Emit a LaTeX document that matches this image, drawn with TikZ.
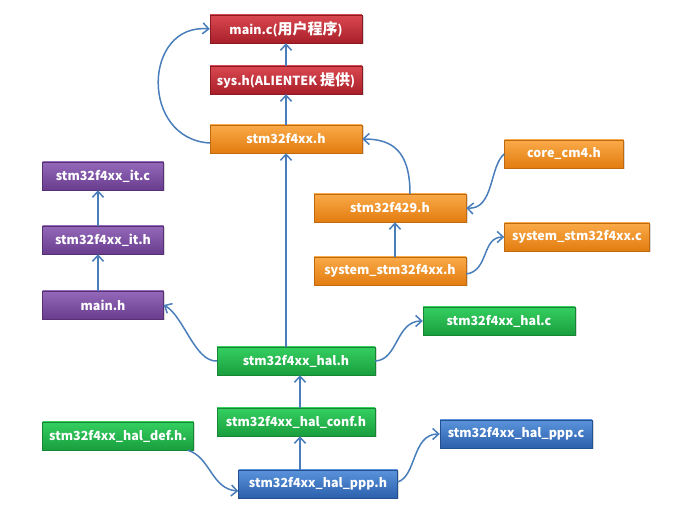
\documentclass[tikz,border=0pt]{standalone}
\usepackage{fontspec}
\setmainfont{Noto Sans CJK SC}
\newfontfamily\cjk{Noto Sans CJK SC}[Scale=1.2]
\usetikzlibrary{arrows.meta,shadows}
\definecolor{redtop}{HTML}{DA4850}
\definecolor{redbot}{HTML}{A81F29}
\definecolor{redline}{HTML}{8C1A22}
\definecolor{orangetop}{HTML}{FAAA48}
\definecolor{orangebot}{HTML}{E27C10}
\definecolor{orangeline}{HTML}{C06A10}
\definecolor{purpletop}{HTML}{9469BA}
\definecolor{purplebot}{HTML}{693C8E}
\definecolor{purpleline}{HTML}{553075}
\definecolor{greentop}{HTML}{34CF60}
\definecolor{greenbot}{HTML}{1A9E3E}
\definecolor{greenline}{HTML}{168534}
\definecolor{bluetop}{HTML}{5A93DC}
\definecolor{bluebot}{HTML}{2C60AC}
\definecolor{blueline}{HTML}{24508F}
\definecolor{arrowblue}{HTML}{4A7EBB}

\tikzset{
  box/.style={rectangle, minimum height=28pt, inner sep=0pt, text=white,
    font=\bfseries\fontsize{12.5}{15}\selectfont,
    drop shadow={opacity=0.3, shadow xshift=1.5pt, shadow yshift=-1.5pt}},
  redbox/.style={box, draw=redline, top color=redtop, bottom color=redbot},
  orangebox/.style={box, draw=orangeline, top color=orangetop, bottom color=orangebot},
  purplebox/.style={box, draw=purpleline, top color=purpletop, bottom color=purplebot},
  greenbox/.style={box, draw=greenline, top color=greentop, bottom color=greenbot},
  bluebox/.style={box, draw=blueline, top color=bluetop, bottom color=bluebot},
  arr/.style={draw=arrowblue, line width=1.5pt, -{Straight Barb[length=6pt,width=11pt]}},
}

\begin{document}
\begin{tikzpicture}[x=1pt,y=1pt]

    \useasboundingbox (0,0) rectangle (673,511);

    \node[redbox, minimum width=152pt] (mainc) at (286,482) {main.c({\cjk 用户程序})};
    \node[redbox, minimum width=152pt] (sysh) at (286,431) {sys.h(ALIENTEK {\cjk 提供})};
    \node[orangebox, minimum width=152pt] (stfxx) at (286,372) {stm32f4xx.h};
    \node[orangebox, minimum width=119pt] (core) at (564,357) {core\_cm4.h};
    \node[orangebox, minimum width=152pt] (stf429) at (390,303) {stm32f429.h};
    \node[orangebox, minimum width=145pt] (sysc) at (577,274) {system\_stm32f4xx.c};
    \node[orangebox, minimum width=152pt] (syshh) at (390,240) {system\_stm32f4xx.h};

    \node[purplebox, minimum width=121pt] (itc) at (103,335) {stm32f4xx\_it.c};
    \node[purplebox, minimum width=121pt] (ith) at (103,271) {stm32f4xx\_it.h};
    \node[purplebox, minimum width=121pt] (mainh) at (103,206) {main.h};

    \node[greenbox, minimum width=152pt] (halc) at (499,190) {stm32f4xx\_hal.c};
    \node[greenbox, minimum width=158pt] (halh) at (296,150) {stm32f4xx\_hal.h};
    \node[greenbox, minimum width=158pt] (conf) at (296,89) {stm32f4xx\_hal\_conf.h};
    \node[greenbox, minimum width=151pt] (def) at (118,75) {stm32f4xx\_hal\_def.h.};

    \node[bluebox, minimum width=159pt] (ppph) at (318,27) {stm32f4xx\_hal\_ppp.h};
    \node[bluebox, minimum width=152pt] (pppc) at (516,77) {stm32f4xx\_hal\_ppp.c};

    \draw[arr] (sysh.north) -- (mainc.south);
    \draw[arr] (stfxx.south |- halh.north) -- (stfxx.south);
    \draw[arr] (stfxx.north) -- (sysh.south);
    \draw[arr] ([yshift=-4pt]stfxx.west) .. controls +(-70,4) and +(-67,6) .. (mainc.west);

    \draw[arr] ([xshift=20pt]stf429.north) .. controls +(0,43) and +(30,0) .. (stfxx.east);
    \draw[arr] (core.west) .. controls +(-15,-12) and +(28,-2) .. (stf429.east);
    \draw[arr] ([xshift=5pt]syshh.north) -- ([xshift=5pt]stf429.south);
    \draw[arr] ([yshift=-3pt]syshh.east) .. controls +(23,3) and +(-23,0) .. (sysc.west);

    \draw[arr] ([xshift=-5pt]ith.north) -- ([xshift=-5pt]itc.south);
    \draw[arr] ([xshift=-5pt]mainh.north) -- ([xshift=-5pt]ith.south);
    \draw[arr] (halh.west) .. controls +(-22,-1) and +(20,-11) .. (mainh.east);
    \draw[arr] (halh.east) .. controls +(23,1) and +(-27,0) .. (halc.west);

    \draw[arr] ([xshift=4pt]conf.north) -- ([xshift=4pt]halh.south);
    \draw[arr] ([xshift=4pt]conf.south |- ppph.north) -- ([xshift=4pt]conf.south);
    \draw[arr] ([xshift=-6pt]def.south east) .. controls +(23,-7) and +(-27,2) .. ([yshift=-7pt]ppph.west);
    \draw[arr] ([yshift=2pt]ppph.east) .. controls +(19,6) and +(-28,0) .. (pppc.west);

\end{tikzpicture}
\end{document}
